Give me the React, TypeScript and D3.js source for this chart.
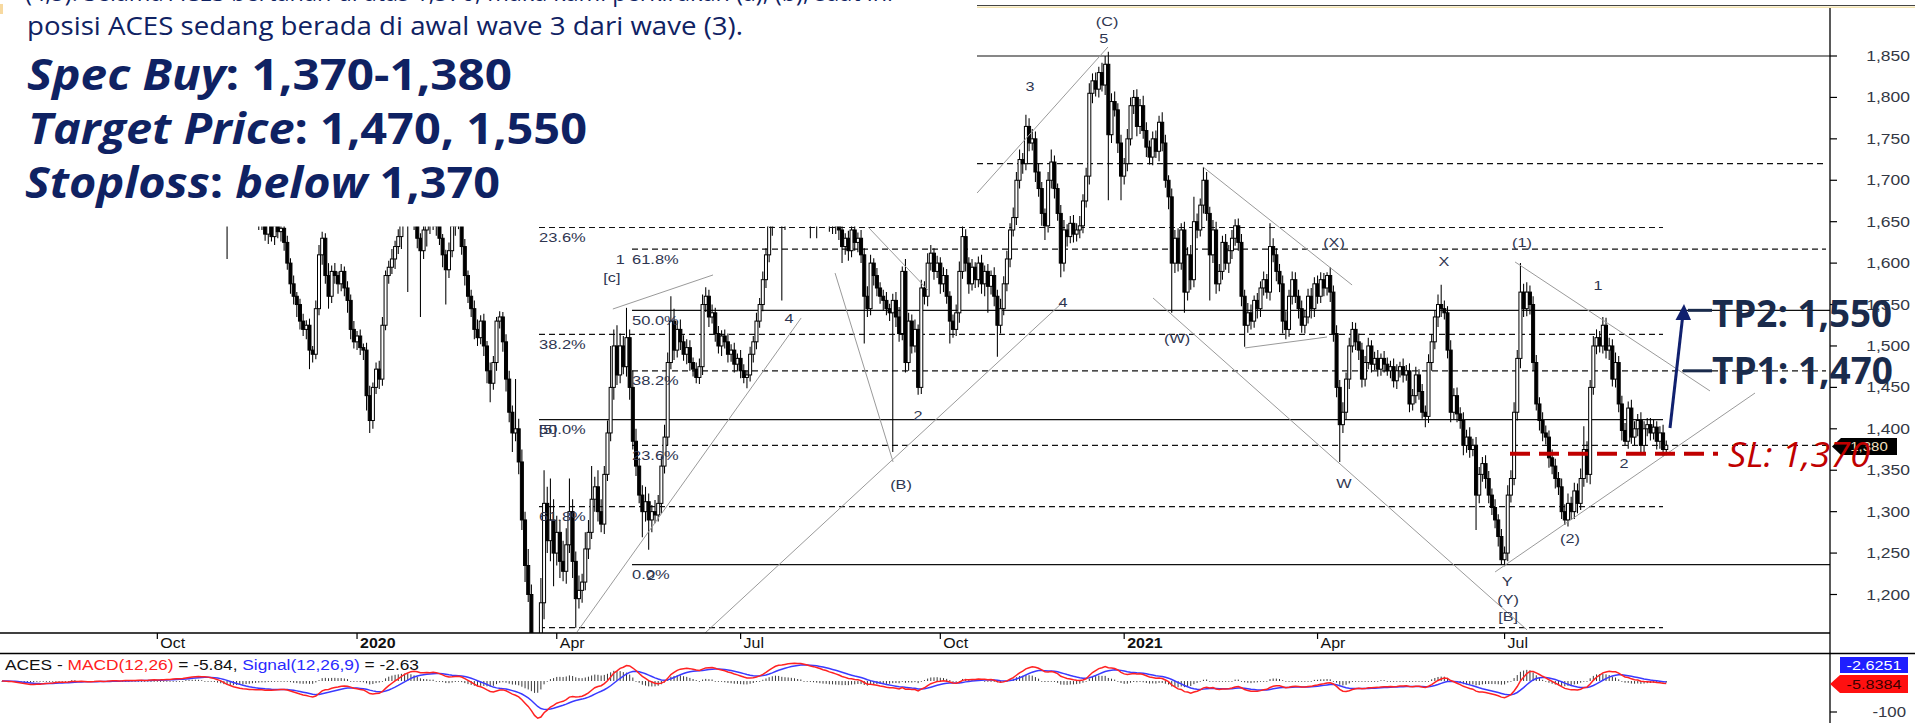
import React from "react";
import * as d3 from "d3";

// ---------- DATA (daily closes; open = previous close) ----------
const closes = [
1760,1755,1745,1750,1740,1730,1720,1725,1715,1710,
1720,1730,1725,1735,1740,1730,1735,1745,1740,1735,
1730,1740,1750,1745,1735,1740,1730,1725,1735,1740,
1745,1735,1730,1740,1750,1745,1740,1735,1745,1750,
1745,1740,1750,1755,1745,1740,1750,1760,1755,1750,
1755,1760,1765,1760,1770,1775,1770,1780,1790,1795,
1800,1805,1800,1790,1795,1785,1770,1760,1745,1730,
1700,1680,1690,1675,1680,1670,1665,1670,1660,1665,
1660,1655,1650,1635,1648,1632,1645,1638,1642,1625,
1600,1575,1560,1550,1530,1520,1525,1495,1490,1545,
1610,1630,1585,1560,1590,1585,1575,1590,1570,1555,
1520,1505,1512,1498,1495,1440,1410,1450,1472,1460,
1525,1585,1595,1605,1620,1632,1660,1675,1665,1680,
1655,1630,1615,1640,1660,1650,1670,1645,1630,1610,
1592,1615,1645,1655,1650,1620,1585,1560,1545,1520,
1510,1530,1500,1470,1455,1480,1530,1535,1505,1460,
1420,1395,1400,1360,1290,1235,1200,1120,1050,1070,
1190,1310,1265,1290,1250,1275,1240,1228,1260,1300,
1240,1195,1205,1215,1255,1275,1315,1330,1300,1285,
1345,1395,1450,1500,1465,1500,1475,1510,1450,1385,
1355,1320,1300,1312,1290,1300,1296,1310,1355,1390,
1480,1530,1495,1520,1505,1490,1498,1480,1472,1462,
1475,1550,1560,1535,1540,1515,1500,1512,1505,1490,
1495,1478,1485,1470,1462,1465,1490,1505,1530,1550,
1580,1610,1645,1665,1680,1670,1650,1675,1690,1695,
1700,1690,1705,1685,1680,1675,1690,1680,1670,1665,
1670,1650,1660,1645,1640,1620,1630,1615,1640,1625,
1630,1610,1560,1545,1600,1585,1570,1560,1555,1545,
1540,1555,1535,1515,1590,1480,1530,1500,1520,1450,
1570,1560,1600,1612,1590,1600,1575,1585,1560,1530,
1520,1540,1590,1632,1600,1575,1595,1580,1600,1575,
1590,1572,1585,1560,1525,1545,1575,1605,1640,1655,
1700,1725,1720,1765,1745,1750,1710,1690,1660,1645,
1700,1722,1690,1660,1600,1640,1632,1648,1635,1640,
1645,1675,1705,1805,1820,1810,1830,1815,1840,1755,
1795,1785,1745,1705,1720,1750,1790,1800,1765,1790,
1760,1740,1728,1750,1735,1770,1745,1700,1680,1600,
1630,1600,1640,1565,1610,1580,1650,1640,1670,1700,
1660,1610,1640,1575,1590,1625,1600,1615,1630,1645,
1625,1560,1525,1540,1530,1555,1545,1570,1580,1565,
1620,1610,1590,1575,1530,1520,1560,1580,1560,1545,
1525,1535,1560,1545,1575,1560,1580,1570,1585,1565,
1515,1450,1405,1420,1460,1500,1520,1505,1495,1460,
1480,1500,1478,1485,1472,1485,1478,1470,1475,1458,
1470,1475,1465,1470,1430,1440,1465,1445,1420,1415,
1480,1505,1535,1550,1545,1540,1495,1420,1440,1418,
1410,1380,1390,1375,1380,1320,1345,1358,1340,1320,
1305,1290,1270,1242,1250,1320,1340,1420,1485,1565,
1545,1565,1550,1480,1430,1410,1395,1390,1365,1355,
1340,1330,1300,1290,1310,1300,1325,1310,1340,1375,
1345,1450,1500,1510,1500,1525,1495,1500,1460,1480,
1430,1398,1385,1425,1390,1400,1410,1380,1400,1405,
1395,1402,1385,1395,1375,1380
];

// upper shadow above the body top
const wickUp = [
8,5,10,6,7,12,5,8,6,9, 7,10,5,8,6,9,7,5,10,6, 8,6,9,5,7,10,6,8,5,7, 6,9,5,8,10,6,7,5,9,6,
8,5,7,10,6,8,5,9,7,6, 7,9,5,8,6,10,7,5,8,9, 6,8,10,5,7,9,6,8,5,10, 9,6,8,5,10,7,6,9,5,8,
7,5,10,6,8,5,9,6,7,5, 8,6,10,5,7,9,6,8,5,10, 12,8,6,15,7,10,5,9,6,8, 7,10,6,8,5,9,12,6,8,10,
10,6,8,12,7,9,10,6,8,12, 8,10,6,9,12,7,10,6,8,5, 6,10,8,12,7,5,9,6,8,10, 12,7,9,6,10,8,5,7,6,9,
10,8,60,12,15,10,20,12,15,25, 30,40,20,50,25,20,15,25,20,40, 15,12,18,10,20,15,40,12,20,15, 10,15,50,20,25,15,12,36,10,20,
15,10,12,18,10,8,14,10,12,15, 12,30,15,10,12,8,10,9,6,8, 10,12,11,8,10,6,9,7,8,10, 7,9,6,10,8,5,9,7,10,8,
10,8,12,6,9,10,7,8,12,6, 8,10,6,9,7,12,8,6,10,7, 9,6,10,8,7,12,6,9,8,10, 7,10,8,12,10,6,9,7,8,10,
6,8,10,12,6,15,10,8,12,6, 10,8,12,10,6,9,7,10,8,6, 8,10,12,13,9,7,10,6,8,10, 7,9,6,10,8,12,9,10,8,12,
10,12,8,14,10,12,9,10,8,6, 10,15,8,6,10,12,7,9,10,8, 12,8,10,12,9,10,7,12,10,15, 10,12,8,10,7,12,10,9,10,8,
12,10,8,9,10,8,12,10,6,10, 10,12,8,10,9,12,30,10,8,16, 10,8,12,10,9,8,10,7,10,8, 9,10,8,12,10,6,9,8,10,7,
28,10,8,9,10,12,8,10,9,8, 10,8,9,10,8,10,9,8,4,10, 8,10,9,12,8,10,9,8,10,9, 8,10,7,8,10,6,9,8,7,10,
8,6,10,7,9,8,10,7,9,8, 10,9,8,12,24,10,8,12,9,10, 8,10,9,12,8,10,9,8,10,9, 8,10,7,9,8,12,10,12,10,35,
10,12,8,10,9,8,10,9,8,10, 9,8,10,9,12,8,10,9,12,28, 10,9,12,10,8,10,9,10,8,12, 8,10,9,8,10,9,8,10,9,8,
8,9,7,8,10,6
];

// lower shadow below the body bottom
const wickDn = [
8,10,6,9,7,5,12,8,10,6, 9,6,10,7,8,12,6,9,5,10, 7,10,8,6,12,9,7,10,6,8, 10,6,8,12,5,9,10,7,8,6,
6,10,8,7,12,9,6,10,8,7, 9,8,6,10,7,5,12,8,9,6, 10,7,12,8,6,9,10,12,8,15, 12,75,10,8,15,10,12,9,14,10,
12,15,10,8,12,6,10,8,12,10, 8,12,10,15,10,8,12,23,10,6, 8,12,10,15,8,10,12,9,10,15, 12,8,10,9,12,18,15,10,8,12,
8,6,10,8,12,9,15,10,100,12, 15,12,80,10,20,15,10,12,8,15, 42,10,8,12,9,10,12,8,10,12, 10,8,12,15,23,8,10,9,12,15,
12,23,10,15,12,20,9,30,25,40, 30,20,15,25,40,15,20,12,15,10, 20,35,12,15,10,12,8,15,12,10, 12,8,10,15,12,10,9,12,15,10,
12,10,31,12,36,15,10,8,12,9, 10,8,12,9,10,8,12,10,9,7, 8,10,9,12,8,10,9,12,8,10, 9,10,8,9,7,13,8,10,9,8,
8,10,9,12,10,8,95,10,8,12, 10,12,8,15,10,45,12,50,10,15, 10,12,15,10,12,20,10,12,8,10, 12,10,57,10,8,12,10,9,12,8,
10,168,12,10,8,12,10,9,8,9, 8,10,12,9,10,8,12,10,9,27, 10,8,12,9,10,12,8,10,9,12, 15,32,10,12,38,10,8,9,10,8,
9,10,12,8,10,9,12,10,15,17, 8,10,12,9,17,10,12,8,10,9, 10,9,8,10,12,9,10,8,12,79, 10,8,12,29,10,9,8,10,12,9,
10,12,9,10,8,12,10,9,15,60, 12,10,8,25,10,12,9,10,8,10, 9,55,10,12,9,10,8,12,10,9, 10,12,26,9,10,8,12,10,9,8,
10,9,12,10,15,12,9,10,8,12, 9,10,8,12,10,9,8,10,9,12, 10,12,45,10,9,12,8,10,12,10, 9,8,10,7,9,8,10,6,9,8,
10,8,9,7,10,8,9,10,8,13, 8,10,9,12,10,8,10,12,9,10, 10,12,9,10,8,42,10,9,12,10, 9,10,12,6,8,10,9,8,10,12,
10,9,12,10,8,12,10,9,12,10, 12,10,9,6,8,10,9,12,8,10, 10,12,9,10,8,9,10,12,9,10, 10,12,5,9,8,10,9,8,10,9,
9,8,10,9,8,7
];

const priceTicks = [1200,1250,1300,1350,1400,1450,1500,1550,1600,1650,1700,1750,1800,1850];
const priceTickLabels = ["1,200","1,250","1,300","1,350","1,400","1,450","1,500","1,550","1,600","1,650","1,700","1,750","1,800","1,850"];
const timeTickLabels = ["Oct","2020","Apr","Jul","Oct","2021","Apr","Jul"];
const timeTickIndex = [49,112,175,233,296,354,415,474];
const timeTickBold = [false,true,false,false,false,true,false,false];

const fibLevels = [1850,1720,1643,1617,1543,1514,1470,1411,1380,1306,1236,1160];
const fibLabelTexts = ["23.6%","61.8%","50.0%","38.2%","38.2%","50.0%","23.6%","61.8%","0.0%"];
const fibLabelLevels = [1643,1617,1543,1514,1470,1411,1380,1306,1236];

const waveTexts = ["(C)","5","3","4","4","2","(B)","(W)","(X)","W","X","(1)","1","2","(2)","Y","(Y)","[B]","[c]","2","[5]","1"];
const waveIdx = [348.6,347.6,324.3,334.7,248.3,289,283.6,370.7,420.2,423.3,454.9,479.5,503.5,511.7,494.6,474.8,475.1,475.1,192.4,204.7,172.2,195];
const wavePrice = [1892,1872,1814,1553,1534,1417,1333,1510,1625,1335,1603,1625,1574,1359,1268,1216,1195,1174,1583,1224,1400,1605];

// trend lines: [idx1, price1, idx2, price2]
const trendLines = [
  [307.6,1684.6,348.9,1860.9],
  [262.8,1588,281.1,1360],
  [273.2,1643.6,292.1,1567.6],
  [221.8,1153.6,334.4,1551.9],
  [181.4,1154.8,252.1,1533.8],
  [192.7,1544.6,224.3,1585.7],
  [363.1,1557.9,481.1,1157.2],
  [378.9,1716,425.9,1573.6],
  [392.1,1497.6,418,1510.8],
  [477.3,1601.4,538.8,1445.7],
  [471,1227.2,553,1443.2],
];

const lastPrice = 1380;
const tp1 = 1470;
const tp2 = 1543;
const stopLoss = 1370;

function ema(arr: number[], n: number) {
  const k = 2 / (n + 1);
  const out: number[] = [];
  arr.forEach((v, i) => out.push(i === 0 ? v : v * k + out[i - 1] * (1 - k)));
  return out;
}

const LBL = "'Liberation Sans', Arial, sans-serif";
const OS = "'Open Sans', sans-serif";

export default function App() {
  const N = closes.length;
  const x = d3.scaleLinear().domain([0, N - 1]).range([2, 2 + 3.17 * (N - 1)]);
  const y = d3.scaleLinear().domain([1200, 1850]).range([594.5, 56]);
  const ym = d3.scaleLinear().domain([-100, 0]).range([712, 681]);

  const candles = closes.map((c, i) => {
    const o = i === 0 ? c : closes[i - 1];
    return { i, o, c, hi: Math.max(o, c) + wickUp[i], lo: Math.min(o, c) - wickDn[i] };
  });

  const e12 = ema(closes, 12);
  const e26 = ema(closes, 26);
  const macd = e12.map((v, i) => v - e26[i]);
  const signal = ema(macd, 9);
  const hist = macd.map((v, i) => v - signal[i]);
  const line = d3.line<number>().x((_, i) => x(i)).y((v) => ym(v));

  const fibCols = [539, 632, 632, 539, 632, 539, 632, 539, 632];
  const lineSpecs = [
    { p: fibLevels[0], solid: true, x1: 977, x2: 1830 },
    { p: fibLevels[1], solid: false, x1: 977, x2: 1826 },
    { p: fibLevels[2], solid: false, x1: 539, x2: 1663 },
    { p: fibLevels[3], solid: false, x1: 632, x2: 1826 },
    { p: fibLevels[4], solid: true, x1: 632, x2: 1830 },
    { p: fibLevels[5], solid: false, x1: 539, x2: 1663 },
    { p: fibLevels[6], solid: false, x1: 632, x2: 1826 },
    { p: fibLevels[7], solid: true, x1: 539, x2: 1663 },
    { p: fibLevels[8], solid: false, x1: 632, x2: 1826 },
    { p: fibLevels[9], solid: false, x1: 539, x2: 1663 },
    { p: fibLevels[10], solid: true, x1: 632, x2: 1830 },
    { p: fibLevels[11], solid: false, x1: 539, x2: 1663 },
  ];

  const navy = "#0f2263";
  const lblColor = "#2e3550";

  return (
    <svg width={1915} height={723} style={{ position: "absolute", left: 0, top: 0, background: "#fff" }}>
      <defs>
        <clipPath id="plot"><rect x={0} y={0} width={1829.5} height={633} /></clipPath>
        <clipPath id="macd"><rect x={0} y={654} width={1829.5} height={69} /></clipPath>
      </defs>
      <rect x={0} y={0} width={1915} height={723} fill="#fff" />

      {/* horizontal fib lines */}
      {lineSpecs.map((l, k) => (
        <line key={k} x1={l.x1} x2={l.x2} y1={y(l.p)} y2={y(l.p)} stroke="#111" strokeWidth={1.2}
          strokeDasharray={l.solid ? undefined : "6 4"} />
      ))}

      {/* candles */}
      <g clipPath="url(#plot)">
        {candles.map((d) => {
          const cx = x(d.i);
          const top = y(Math.max(d.o, d.c));
          const bot = y(Math.min(d.o, d.c));
          const down = d.c < d.o;
          return (
            <g key={d.i}>
              <line x1={cx} x2={cx} y1={y(d.hi)} y2={y(d.lo)} stroke="#000" strokeWidth={1.05} />
              <rect x={cx - 1.5} y={top} width={3} height={Math.max(bot - top, 0.8)}
                fill={down ? "#000" : "#fff"} stroke="#000" strokeWidth={1} />
            </g>
          );
        })}
      </g>

      {/* text box area covering the chart */}
      <rect x={0} y={0} width={977} height={226.5} fill="#fff" />
      <line x1={539} x2={977} y1={y(fibLevels[2])} y2={y(fibLevels[2])} stroke="#111" strokeWidth={1.2} strokeDasharray="6 4" />
      <rect x={0} y={4} width={3} height={10} fill="#f7d9a0" />

      {/* top border */}
      <line x1={977} x2={1915} y1={5.5} y2={5.5} stroke="#444" strokeWidth={1.2} />
      <line x1={977} x2={1915} y1={7.2} y2={7.2} stroke="#f3e3b0" strokeWidth={1.4} />

      {/* trend lines */}
      {trendLines.map((t, k) => (
        <line key={k} x1={x(t[0])} y1={y(t[1])} x2={x(t[2])} y2={y(t[3])} stroke="#9a9a9a" strokeWidth={1} />
      ))}

      {/* fib labels */}
      {fibLabelTexts.map((t, k) => (
        <text key={k} transform={`translate(${fibCols[k]},${y(fibLabelLevels[k]) + 14.5}) scale(1.32,1)`}
          fontFamily={LBL} fontSize={12.5} fill={lblColor}>{t}</text>
      ))}

      {/* wave labels */}
      {waveTexts.map((t, k) => (
        <text key={k} transform={`translate(${x(waveIdx[k])},${y(wavePrice[k]) + 5}) scale(1.3,1)`}
          textAnchor="middle" fontFamily={LBL} fontSize={12.5} fill={lblColor}>{t}</text>
      ))}

      {/* axes */}
      <line x1={0} x2={1830} y1={633} y2={633} stroke="#000" strokeWidth={1.3} />
      <line x1={0} x2={1915} y1={653.5} y2={653.5} stroke="#000" strokeWidth={1.3} />
      <line x1={1830} x2={1830} y1={8} y2={723} stroke="#000" strokeWidth={1.3} />
      {priceTicks.map((p, k) => (
        <g key={p}>
          <line x1={1830} x2={1837} y1={y(p)} y2={y(p)} stroke="#000" strokeWidth={1.2} />
          <text transform={`translate(1910,${y(p) + 5}) scale(1.25,1)`} textAnchor="end"
            fontFamily={LBL} fontSize={14} fill="#333844">{priceTickLabels[k]}</text>
        </g>
      ))}
      {timeTickLabels.map((t, k) => {
        const tx = x(timeTickIndex[k]);
        return (
          <g key={k}>
            <line x1={tx} x2={tx} y1={633} y2={639} stroke="#000" strokeWidth={1.2} />
            <text transform={`translate(${tx + 3},647.5) scale(1.1,1)`} fontFamily={LBL} fontSize={14.5}
              fontWeight={timeTickBold[k] ? 700 : 400} fill="#111">{t}</text>
          </g>
        );
      })}

      {/* MACD panel */}
      <g clipPath="url(#macd)">
        {hist.map((h, i) => (
          <line key={i} x1={x(i)} x2={x(i)} y1={ym(0)} y2={Math.abs(ym(h) - ym(0)) < 0.8 ? ym(0) + 0.8 : ym(h)}
            stroke="#222" strokeWidth={0.9} />
        ))}
        <path d={line(signal) || ""} fill="none" stroke="#3a3aff" strokeWidth={1.5} />
        <path d={line(macd) || ""} fill="none" stroke="#ff2222" strokeWidth={1.5} />
      </g>
      <text x={5} y={670} fontFamily={LBL} fontSize={14} textLength={414} lengthAdjust="spacingAndGlyphs">
        <tspan fill="#111">ACES - </tspan>
        <tspan fill="#ff2020">MACD(12,26)</tspan>
        <tspan fill="#111"> = -5.84, </tspan>
        <tspan fill="#2a2aff">Signal(12,26,9)</tspan>
        <tspan fill="#111"> = -2.63</tspan>
      </text>
      <line x1={1830} x2={1837} y1={ym(-100)} y2={ym(-100)} stroke="#000" strokeWidth={1.2} />
      <text transform={`translate(1906,${ym(-100) + 5}) scale(1.2,1)`} textAnchor="end" fontFamily={LBL} fontSize={14} fill="#333844">-100</text>
      <rect x={1840} y={657} width={68} height={16} fill="#1f1fff" />
      <text transform="translate(1874,670) scale(1.2,1)" textAnchor="middle" fontFamily={LBL} fontSize={13.5} fill="#fff">-2.6251</text>
      <polygon points="1830,684 1840,675 1908,675 1908,693 1840,693" fill="#ff1010" />
      <text transform="translate(1874,689) scale(1.2,1)" textAnchor="middle" fontFamily={LBL} fontSize={13.5} fill="#3a0000">-5.8384</text>

      {/* last price box */}
      <polygon points={`1832,${y(lastPrice) + 1} 1841,${y(lastPrice) - 7.5} 1897,${y(lastPrice) - 7.5} 1897,${y(lastPrice) + 9.5} 1841,${y(lastPrice) + 9.5}`} fill="#000" />
      <text transform={`translate(1869,${y(lastPrice) + 6}) scale(1.15,1)`} textAnchor="middle" fontFamily={LBL} fontSize={13} fill="#f3e2c0">1,380</text>

      {/* trade plan annotations */}
      <line x1={1510} x2={1718} y1={y(stopLoss)} y2={y(stopLoss)} stroke="#c00000" strokeWidth={4} strokeDasharray="20 9" />
      <line x1={1670} y1={428} x2={1682.5} y2={318} stroke="#10206e" strokeWidth={3} />
      <polygon points="1684,304 1675.5,320 1691,320" fill="#10206e" />
      <line x1={1688} x2={1712} y1={y(tp2)} y2={y(tp2)} stroke="#1a2b4c" strokeWidth={3} />
      <line x1={1683} x2={1712} y1={y(tp1)} y2={y(tp1)} stroke="#1a2b4c" strokeWidth={3} />
      <text x={1712} y={327} fontFamily={OS} fontWeight={700} fontSize={38} fill="#1a2b4c" textLength={180} lengthAdjust="spacingAndGlyphs">TP2: 1,550</text>
      <text x={1712} y={384} fontFamily={OS} fontWeight={700} fontSize={38} fill="#1a2b4c" textLength={181} lengthAdjust="spacingAndGlyphs">TP1: 1,470</text>
      <text x={1728} y={467} fontFamily={OS} fontStyle="italic" fontSize={35} fill="#c00000" textLength={142} lengthAdjust="spacingAndGlyphs">SL: 1,370</text>

      {/* commentary text */}
      <text x={25} y={0.5} fontFamily={OS} fontSize={25} fill={navy} textLength={868} lengthAdjust="spacingAndGlyphs">(4,5). Selama ACES bertahan di atas 1,370, maka kami perkirakan (a), (b), saat ini</text>
      <text x={27} y={35} fontFamily={OS} fontSize={25} fill={navy} textLength={716} lengthAdjust="spacingAndGlyphs">posisi ACES sedang berada di awal wave 3 dari wave (3).</text>
      <text x={27} y={90} fontFamily={OS} fontWeight={700} fontSize={43} fill={navy} textLength={485} lengthAdjust="spacingAndGlyphs">
        <tspan fontStyle="italic">Spec Buy</tspan><tspan>: 1,370-1,380</tspan>
      </text>
      <text x={28} y={144} fontFamily={OS} fontWeight={700} fontSize={43} fill={navy} textLength={559} lengthAdjust="spacingAndGlyphs">
        <tspan fontStyle="italic">Target Price</tspan><tspan>: 1,470, 1,550</tspan>
      </text>
      <text x={25} y={198} fontFamily={OS} fontWeight={700} fontSize={43} fill={navy} textLength={475} lengthAdjust="spacingAndGlyphs">
        <tspan fontStyle="italic">Stoploss</tspan><tspan>: </tspan><tspan fontStyle="italic">below</tspan><tspan> 1,370</tspan>
      </text>
    </svg>
  );
}
